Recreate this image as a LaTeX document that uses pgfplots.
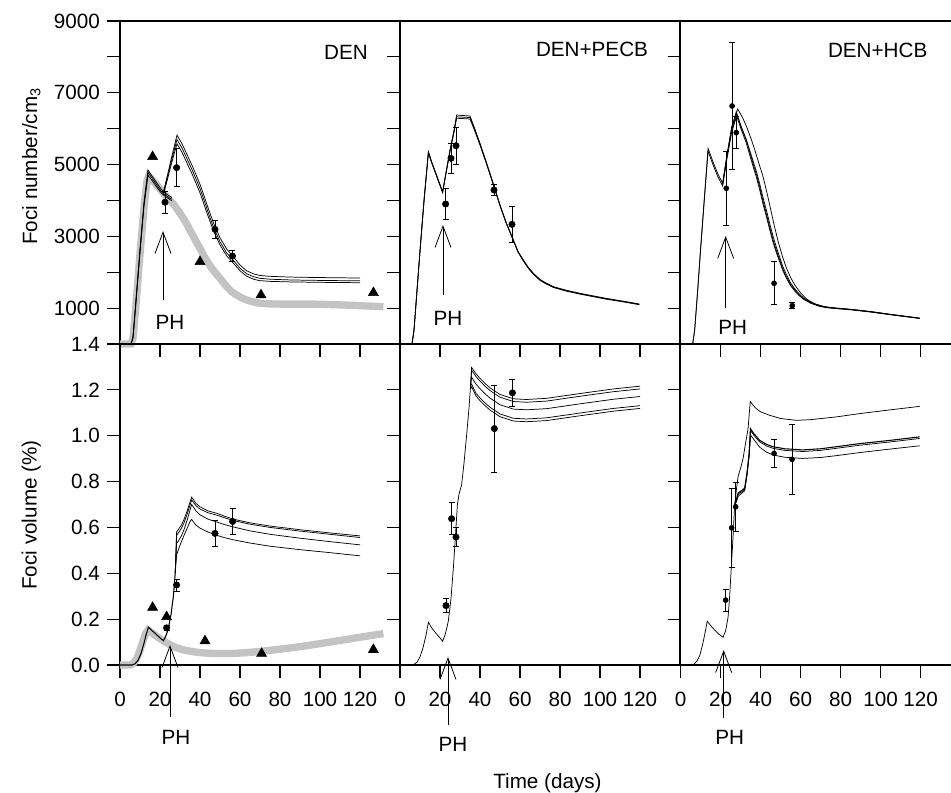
\documentclass[border=0pt]{standalone}
\usepackage{fontspec}
\setmainfont{Liberation Sans}
\usepackage{pgfplots}
\pgfplotsset{compat=1.18}
\usetikzlibrary{arrows.meta}
\definecolor{bandgray}{RGB}{195,195,195}
\newcommand\figfont{\fontsize{15.5}{18}\selectfont}
\pgfplotsset{
  every axis/.append style={font=\figfont},
  every tick label/.append style={font=\figfont},
  panel/.style={scale only axis, width=210pt, xmin=0, xmax=140, clip=false,
    tick align=outside, tick pos=left, major tick length=9.75pt,
    axis line style={line width=0.8pt}, every tick/.style={black, line width=0.8pt},
    xticklabel style={font=\figfont, yshift=-5.5pt},
    yticklabel style={font=\figfont},
    xtick={0,20,...,120}, /pgf/number format/assume math mode=true},
  toprow/.style={panel, height=242.25pt, ymin=0, ymax=9000,
    ytick={1000,2000,...,9000}, xticklabels={}},
  botrow/.style={panel, height=240.75pt, ymin=0, ymax=1.4,
    ytick={0,0.2,0.4,0.6,0.8,1.0,1.2,1.4}, xticklabels={0,20,40,60,80,100,120}},
  fit/.style={black, line width=0.55pt, mark=none},
  gband/.style={bandgray, line width=5.5pt, mark=none},
  obs/.style={black, only marks, mark=*, mark size=2.4pt,
    error bars/y dir=both, error bars/y explicit,
    error bars/error bar style={line width=0.6pt},
    error bars/error mark options={rotate=90, line width=0.6pt, mark size=2.2pt}},
  tri/.style={black, only marks, mark=triangle*, mark size=4.3pt},
}
\tikzset{arr/.style={line width=0.6pt, -{Straight Barb[length=16pt,width=12pt]}}}

\begin{document}
\figfont
\begin{tikzpicture}[font=\figfont]

% ---------- top row: foci number ----------
\begin{axis}[toprow, at={(90pt,336.75pt)}, anchor=south west,
  yticklabels={1000,,3000,,5000,,7000,,9000}]
\addplot[gband] coordinates {(0,0)(5.5,0)(6.5,150)(8,1100)(10,2500)(12,3800)(13.5,4550)(14.3,4680)(16,4580)(18,4450)(20,4320)(21.7,4200)(24,4050)(26.7,3900)(29,3720)(31.7,3500)(33.8,3300)(35.8,3084)(38,2860)(40,2665)(42,2450)(44.2,2248)(46.3,2080)(48.3,1940)(51,1760)(53.3,1600)(56,1450)(58.3,1365)(61,1280)(63.3,1226)(66.7,1170)(70,1133)(75,1118)(81.7,1110)(90,1110)(98.3,1110)(107,1095)(115,1080)(123,1060)(131.7,1040)};
\addplot[fit] coordinates {(0,0)(5.5,0)(6.5,200)(8,1250)(10,2650)(12,3950)(14,4850)(16,4680)(18,4520)(20,4360)(21.7,4240)(24,4150)(26,4080)};
\addplot[fit] coordinates {(0,0)(5.5,0)(6.5,180)(8,1200)(10,2600)(12,3900)(14,4780)(16,4620)(18,4460)(20,4300)(21.7,4190)(24,4100)(26,4030)};
\addplot[fit] coordinates {(0,0)(5.5,0)(6.5,160)(8,1150)(10,2550)(12,3850)(14,4700)(16,4560)(18,4400)(20,4250)(21.7,4150)(24,4060)(26,3990)};
\addplot[fit] coordinates {(21.7,4240)(23.5,4650)(26,5250)(28.5,5820)(31,5580)(33.5,5280)(36,4980)(38,4720)(40,4450)(42,4130)(44,3800)(46.7,3380)(50,2960)(53.3,2650)(56.7,2430)(60,2200)(63.3,2040)(67,1950)(70,1910)(75,1885)(85,1865)(95,1855)(105,1848)(120,1838)};
\addplot[fit] coordinates {(21.7,4200)(23.5,4600)(26,5170)(28.5,5700)(31,5460)(33.5,5160)(36,4860)(38,4600)(40,4330)(42,4010)(44,3680)(46.7,3260)(50,2850)(53.3,2540)(56.7,2330)(60,2110)(63.3,1960)(67,1870)(70,1830)(75,1805)(85,1785)(95,1775)(105,1768)(120,1760)};
\addplot[fit] coordinates {(21.7,4160)(23.5,4540)(26,5080)(28.5,5580)(31,5340)(33.5,5040)(36,4740)(38,4480)(40,4210)(42,3890)(44,3570)(46.7,3160)(50,2760)(53.3,2460)(56.7,2250)(60,2040)(63.3,1890)(67,1800)(70,1765)(75,1745)(85,1730)(95,1722)(105,1715)(120,1708)};
\addplot[tri] coordinates {(16.3,5218)(40,2293)(70.5,1365)(126.7,1430)};
\addplot[obs] coordinates {(22.5,3950) +- (0,300) (28.3,4913) +- (0,530) (47.5,3195) +- (0,250) (56.2,2452) +- (0,150)};
\draw[arr] (axis cs:21.5,1226) -- (axis cs:21.5,3148);
\node at (axis cs:25,613) {PH};
\node at (axis cs:113,8135) {DEN};
\end{axis}

\begin{axis}[toprow, at={(300pt,336.75pt)}, anchor=south west, yticklabels={}]
\addplot[fit] coordinates {(0,0)(6,0)(7,390)(8.5,1500)(10,2600)(12,4000)(14.2,5357)(16,5050)(18,4750)(21.3,4243)(23,4780)(25,5400)(27,5950)(28.3,6380)(35,6352)(37.5,5980)(40,5590)(42.5,5180)(45,4755)(47.5,4320)(50,3872)(53,3400)(56.7,2897)(59,2580)(61.7,2340)(64,2150)(66.7,1969)(70,1800)(73,1700)(76.7,1597)(83,1500)(90,1412)(103,1272)(112,1190)(119.7,1114)};
\addplot[fit] coordinates {(0,0)(6,0)(7,385)(8.5,1490)(10,2590)(12,3990)(14.2,5345)(16,5035)(18,4735)(21.3,4230)(23,4765)(25,5385)(27,5925)(28.3,6330)(35,6310)(37.5,5950)(40,5565)(42.5,5160)(45,4738)(47.5,4305)(50,3860)(53,3390)(56.7,2888)(59,2570)(61.7,2325)(64,2135)(66.7,1955)(70,1788)(73,1688)(76.7,1586)(83,1488)(90,1401)(103,1261)(112,1180)(119.7,1104)};
\addplot[fit] coordinates {(0,0)(6,0)(7,380)(8.5,1480)(10,2580)(12,3980)(14.2,5330)(16,5020)(18,4720)(21.3,4215)(23,4750)(25,5370)(27,5900)(28.3,6290)(35,6270)(37.5,5920)(40,5540)(42.5,5140)(45,4720)(47.5,4290)(50,3850)(53,3380)(56.7,2880)(59,2560)(61.7,2310)(64,2120)(66.7,1940)(70,1775)(73,1675)(76.7,1575)(83,1475)(90,1390)(103,1250)(112,1170)(119.7,1095)};
\addplot[obs] coordinates {(22.8,3900) +- (0,430) (25.5,5172) +- (0,418) (28,5525) +- (0,510) (47,4290) +- (0,153) (56,3334) +- (0,510)};
\draw[arr] (axis cs:21.5,1365) -- (axis cs:21.5,3315);
\node at (axis cs:24,724) {PH};
\node at (axis cs:96,8219) {DEN+PECB};
\end{axis}

\begin{axis}[toprow, at={(510.5pt,336.75pt)}, anchor=south west, yticklabels={}]
\addplot[fit] coordinates {(0,0)(6,0)(7,390)(8.5,1500)(10,2700)(12,4200)(13.7,5450)(16,5100)(18.5,4750)(21,4477)(23,5200)(25.5,6000)(27.8,6472)(30,6100)(32.8,5683)(34.5,5350)(36.2,5032)(38,4700)(39.5,4382)(41,4020)(42.8,3640)(44.5,3260)(46.2,2897)(48,2580)(49.5,2340)(51,2100)(52.8,1875)(55,1650)(57,1504)(59,1380)(61.2,1273)(65,1150)(69.5,1059)(73,1020)(77.8,993)(85,960)(94.5,900)(105,820)(112,770)(119.5,716)};
\addplot[fit] coordinates {(0,0)(6,0)(7,380)(8.5,1480)(10,2650)(12,4130)(13.7,5370)(16,5020)(18.5,4670)(21,4400)(23,5120)(25.5,5900)(28,6350)(30,6020)(32.8,5600)(34.5,5270)(36.2,4950)(38,4620)(39.5,4300)(41,3940)(42.8,3560)(44.5,3190)(46.2,2830)(48,2520)(49.5,2290)(51,2060)(52.8,1840)(55,1620)(57,1480)(59,1360)(61.2,1255)(65,1135)(69.5,1048)(73,1010)(77.8,985)(85,952)(94.5,893)(105,814)(112,765)(119.5,712)};
\addplot[fit] coordinates {(21,4450)(23,5160)(25.5,5950)(28,6420)(30,6080)(32.8,5700)(34.5,5400)(36.2,5100)(38,4780)(39.5,4470)(41,4120)(42.8,3740)(44.5,3360)(46.2,3000)(48,2670)(49.5,2420)(51,2170)(52.8,1940)(55,1700)(57,1545)(59,1410)(61.2,1295)(65,1165)(69.5,1068)(73,1028)(77.8,1000)(85,966)(94.5,905)(105,824)(112,773)(119.5,720)};
\addplot[fit] coordinates {(21,4470)(23,5220)(25.5,6050)(28.5,6550)(31,6300)(33,6050)(35,5750)(37,5420)(39,5050)(41,4700)(43,4250)(45,3750)(47,3250)(49,2800)(51,2420)(53,2100)(55,1850)(57,1650)(60,1420)(63,1250)(67,1120)(72,1040)(78,1000)(85,965)(95,905)(105,825)(119.5,720)};
\addplot[obs, mark size=1.9pt] coordinates {(22.8,4338) +- (0,1022) (25.7,6631) +- (0,1780) (27.8,5890) +- (0,440) (46.7,1691) +- (0,600) (55.8,1068) +- (0,90)};
\draw[arr] (axis cs:22.5,1003) -- (axis cs:22.5,3009);
\node at (axis cs:26,474) {PH};
\node at (axis cs:98.5,8191) {DEN+HCB};
\end{axis}

% ---------- bottom row: foci volume ----------
\begin{axis}[botrow, at={(90pt,96pt)}, anchor=south west,
  yticklabels={0.0,0.2,0.4,0.6,0.8,1.0,1.2,1.4}]
\addplot[tri] coordinates {(16.3,0.251)(23.3,0.21)(42.5,0.105)(70.8,0.05)(126.7,0.067)};
\addplot[gband] coordinates {(0,0)(5,0)(6,0.003)(7,0.01)(8.5,0.03)(10,0.065)(11.5,0.105)(13,0.14)(14,0.152)(16,0.14)(18,0.127)(20,0.115)(21.7,0.105)(25,0.088)(28,0.076)(31.7,0.066)(35,0.06)(40,0.054)(45,0.051)(50,0.05)(55,0.05)(60,0.052)(65,0.055)(70,0.059)(75,0.064)(80,0.069)(90,0.08)(100,0.093)(110,0.107)(120,0.121)(131.7,0.137)};
\addplot[fit, line width=0.8pt] coordinates {(0,0)(6,0)(7.5,0.005)(9,0.02)(10.5,0.05)(12,0.095)(13,0.13)(14.2,0.165)(16,0.15)(18,0.135)(20,0.118)(21.7,0.106)(23,0.128)(24.2,0.16)(25.5,0.22)(26.7,0.30)(27.6,0.40)};
\addplot[fit] coordinates {(27.6,0.40)(28.3,0.58)(29.5,0.595)(30.8,0.612)(32,0.635)(33.5,0.67)(35,0.71)(35.8,0.732)(38,0.705)(40,0.69)(44,0.672)(48.3,0.662)(52,0.65)(56.7,0.636)(65,0.62)(75,0.606)(90,0.590)(105,0.576)(120,0.563)};
\addplot[fit] coordinates {(27.6,0.40)(28.3,0.565)(29.5,0.58)(30.8,0.598)(32,0.62)(33.5,0.656)(35,0.697)(35.8,0.72)(38,0.695)(40,0.68)(44,0.664)(48.3,0.654)(52,0.643)(56.7,0.63)(65,0.614)(75,0.6)(90,0.584)(105,0.57)(120,0.556)};
\addplot[fit] coordinates {(27.6,0.40)(28.3,0.53)(29.5,0.545)(30.8,0.565)(32,0.59)(33.5,0.63)(35,0.675)(35.8,0.7)(38,0.672)(40,0.655)(44,0.636)(48.3,0.624)(52,0.613)(56.7,0.602)(65,0.585)(75,0.57)(90,0.553)(105,0.538)(120,0.524)};
\addplot[fit] coordinates {(27.6,0.40)(28.3,0.48)(29.5,0.51)(30.8,0.54)(32,0.565)(33.5,0.595)(35,0.625)(35.8,0.635)(38,0.61)(40,0.597)(44,0.58)(48.3,0.566)(52,0.556)(56.7,0.546)(65,0.532)(75,0.518)(90,0.503)(105,0.49)(120,0.476)};
\addplot[obs] coordinates {(23.3,0.162) +- (0,0.01) (28.3,0.349) +- (0,0.026) (47.5,0.574) +- (0,0.056) (56.3,0.626) +- (0,0.058)};
\draw[arr] (axis cs:25,-0.227) -- (axis cs:25,0.087);
\node at (axis cs:28,-0.314) {PH};
\end{axis}

\begin{axis}[botrow, at={(300pt,96pt)}, anchor=south west, yticklabels={}]
\addplot[fit] coordinates {(0,0)(6,0)(7,0.003)(8.5,0.012)(10,0.035)(11.5,0.075)(13,0.13)(14.2,0.186)(16,0.16)(18,0.138)(20,0.118)(21.3,0.104)(22.5,0.13)(23.5,0.165)(24.2,0.194)(25.5,0.29)(26.7,0.425)(27.7,0.56)(28.7,0.699)(29.5,0.745)(30.8,0.785)(32,0.88)(33.3,1.002)(34.5,1.12)(35.3,1.219)(35.8,1.298)(38,1.27)(40,1.25)(42.5,1.228)(45,1.209)(50,1.18)(56.7,1.161)(63.3,1.158)(73.3,1.163)(90,1.184)(106.7,1.204)(120,1.216)};
\addplot[fit] coordinates {(35.3,1.219)(35.8,1.286)(38,1.258)(40,1.238)(42.5,1.216)(45,1.197)(50,1.168)(56.7,1.149)(63.3,1.146)(73.3,1.151)(90,1.172)(106.7,1.192)(120,1.204)};
\addplot[fit] coordinates {(35.3,1.219)(35.8,1.255)(38,1.225)(40,1.205)(42.5,1.183)(45,1.164)(50,1.135)(56.7,1.116)(63.3,1.113)(73.3,1.118)(90,1.139)(106.7,1.159)(120,1.171)};
\addplot[fit] coordinates {(35.3,1.219)(35.8,1.225)(38,1.185)(40,1.165)(42.5,1.143)(45,1.124)(50,1.095)(56.7,1.076)(63.3,1.073)(73.3,1.078)(90,1.099)(106.7,1.119)(120,1.131)};
\addplot[fit] coordinates {(35.3,1.205)(35.8,1.213)(38,1.173)(40,1.153)(42.5,1.131)(45,1.112)(50,1.083)(56.7,1.064)(63.3,1.061)(73.3,1.066)(90,1.087)(106.7,1.107)(120,1.119)};
\addplot[obs] coordinates {(23,0.259) +- (0,0.03) (25.8,0.638) +- (0,0.069) (28,0.558) +- (0,0.042) (47.2,1.031) +- (0,0.189) (56.2,1.187) +- (0,0.057)};
\draw[arr] (axis cs:24,-0.262) -- (axis cs:24,0.035);
\node at (axis cs:26.5,-0.345) {PH};
\end{axis}

\begin{axis}[botrow, at={(510.5pt,96pt)}, anchor=south west, yticklabels={}]
\addplot[fit] coordinates {(0,0)(5,0)(6.5,0.003)(8,0.015)(9.5,0.04)(11,0.09)(12.3,0.145)(13.3,0.191)(15,0.172)(17,0.152)(19,0.135)(21.2,0.121)(22.5,0.15)(23.7,0.208)(24.5,0.3)(25.3,0.424)(26.2,0.56)(27,0.699)(27.8,0.76)(28.7,0.822)(30,0.86)(31.2,0.901)(32.5,0.97)(33.7,1.031)(34.8,1.149)(36,1.135)(37.8,1.118)(40,1.104)(44.5,1.089)(50,1.075)(57.8,1.067)(65,1.07)(77.8,1.082)(90,1.097)(105,1.113)(119.5,1.128)};
\addplot[fit, line width=0.8pt] coordinates {(27,0.699)(27.8,0.72)(28.7,0.75)(30,0.758)(32,0.771)(33.2,0.84)(34.2,0.92)(34.9,1.031)(36.5,1.01)(39.5,0.98)(43,0.962)(46.2,0.952)(52,0.943)(61,0.938)(70,0.943)(77.8,0.952)(90,0.966)(105,0.98)(119.5,0.995)};
\addplot[fit] coordinates {(27,0.699)(27.8,0.714)(28.7,0.744)(30,0.752)(32,0.765)(33.2,0.834)(34.2,0.914)(34.9,1.024)(36.5,1.003)(39.5,0.973)(43,0.955)(46.2,0.945)(52,0.936)(61,0.931)(70,0.936)(77.8,0.945)(90,0.959)(105,0.973)(119.5,0.988)};
\addplot[fit] coordinates {(27,0.699)(27.8,0.71)(28.7,0.735)(30,0.745)(32,0.76)(33.2,0.83)(34.2,0.91)(35,1.002)(36.5,0.985)(39.5,0.95)(43,0.928)(46.2,0.916)(52,0.906)(61,0.901)(70,0.905)(77.8,0.913)(90,0.927)(105,0.942)(119.5,0.956)};
\addplot[obs, mark size=1.9pt] coordinates {(22.5,0.283) +- (0,0.048) (25.5,0.598) +- (0,0.173) (27.5,0.69) +- (0,0.107) (46.7,0.923) +- (0,0.06) (55.7,0.897) +- (0,0.153)};
\draw[arr] (axis cs:21.5,-0.231) -- (axis cs:21.5,0.065);
\node at (axis cs:24.5,-0.314) {PH};
\end{axis}

% ---------- shared labels ----------
\node[rotate=90, anchor=base] at (27.75pt,470pt) {Foci number/cm\textsubscript{3}};
\node[rotate=90, anchor=base] at (27.5pt,208.5pt) {Foci volume (\%)};
\node at (410.6pt,7.3pt) {Time (days)};

\pgfresetboundingbox
\useasboundingbox (0,0) rectangle (713.25pt,594.75pt);
\end{tikzpicture}
\end{document}
